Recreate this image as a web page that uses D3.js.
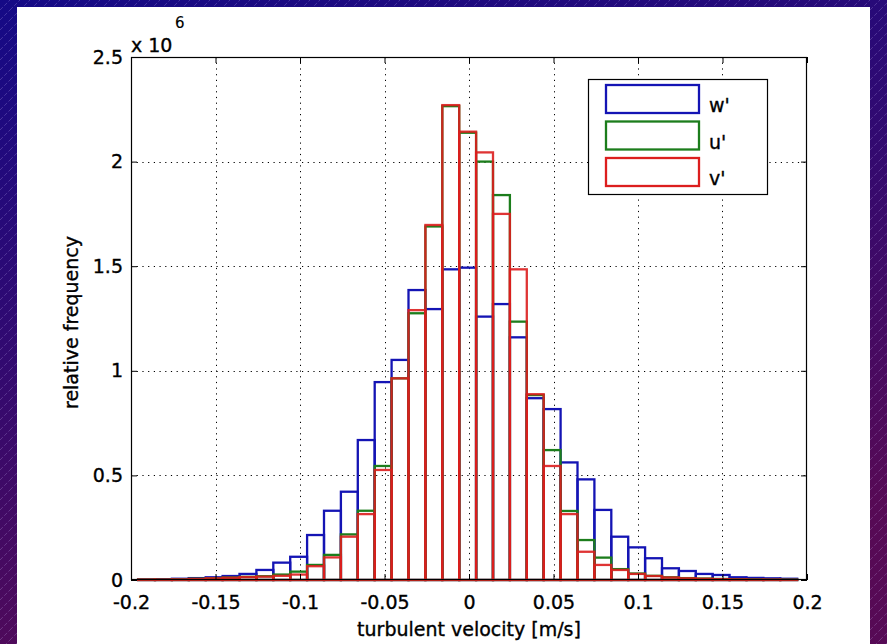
<!DOCTYPE html>
<html><head><meta charset="utf-8">
<script src="https://cdn.jsdelivr.net/npm/d3@7"></script>
<style>body{margin:0;background:#fff;} svg{display:block;} text{stroke:#000;stroke-width:0.35px;}</style>
</head><body>
<script>
// bin centres (m/s), bin width 0.01
const binCenters = [-0.1908,-0.1808,-0.1708,-0.1608,-0.1508,-0.1408,-0.1308,-0.1208,-0.1108,-0.1008,
  -0.0908,-0.0808,-0.0708,-0.0608,-0.0508,-0.0408,-0.0308,-0.0208,-0.0108,-0.0008,
  0.0092,0.0192,0.0292,0.0392,0.0492,0.0592,0.0692,0.0792,0.0892,0.0992,
  0.1092,0.1192,0.1292,0.1392,0.1492,0.1592,0.1692,0.1792,0.1892];
const binWidth = 0.01;
// relative frequency (x 10^6)
const wPrime = [0.003,0.004,0.006,0.009,0.013,0.019,0.029,0.048,0.083,0.111,
  0.215,0.331,0.422,0.669,0.946,1.052,1.386,1.295,1.485,1.493,
  1.259,1.319,1.160,0.869,0.817,0.562,0.481,0.335,0.207,0.156,
  0.104,0.056,0.043,0.029,0.024,0.013,0.010,0.008,0.006];
const uPrime = [0.002,0.002,0.003,0.006,0.008,0.012,0.015,0.018,0.026,0.040,
  0.072,0.120,0.218,0.331,0.545,0.964,1.275,1.690,2.265,2.138,
  2.000,1.840,1.235,0.884,0.621,0.330,0.191,0.107,0.052,0.031,
  0.020,0.013,0.009,0.007,0.005,0.004,0.003,0.002,0.002];
const vPrime = [0.002,0.002,0.003,0.005,0.008,0.011,0.014,0.016,0.020,0.026,
  0.066,0.108,0.207,0.315,0.526,0.964,1.290,1.697,2.270,2.143,
  2.044,1.750,1.485,0.888,0.545,0.315,0.135,0.072,0.048,0.029,
  0.019,0.012,0.008,0.006,0.004,0.003,0.002,0.002,0.001];
const seriesNames = ["w'", "u'", "v'"];
const seriesValues = [wPrime, uPrime, vPrime];
const seriesColors = ["#1414b4", "#1c7d1c", "#dc1e1e"];
const xTicks = [-0.2,-0.15,-0.1,-0.05,0,0.05,0.1,0.15,0.2];
const yTicks = [0,0.5,1,1.5,2,2.5];

const W = 887, H = 644;
const m = {left:131, right:807, top:57, bottom:580};
const FONT = "DejaVu Sans, Liberation Sans, sans-serif";

const svg = d3.select("body").append("svg").attr("width", W).attr("height", H);
const defs = svg.append("defs");
const grad = defs.append("linearGradient").attr("id","bg").attr("x1","0").attr("y1","0").attr("x2","0.35").attr("y2","1");
grad.append("stop").attr("offset","0").attr("stop-color","#150a86");
grad.append("stop").attr("offset","0.5").attr("stop-color","#320a70");
grad.append("stop").attr("offset","1").attr("stop-color","#560a55");
const pat = defs.append("pattern").attr("id","hatch").attr("patternUnits","userSpaceOnUse")
  .attr("width",10).attr("height",10);
pat.append("path").attr("d","M0,10 L10,0").attr("stroke","rgba(210,190,255,0.3)")
  .attr("stroke-width",0.8).attr("stroke-dasharray","4,2");

svg.append("rect").attr("width",W).attr("height",H).attr("fill","url(#bg)");
svg.append("rect").attr("width",W).attr("height",H).attr("fill","url(#hatch)");
svg.append("rect").attr("x",17).attr("y",7).attr("width",853).attr("height",H-7).attr("fill","#fff");

const x = d3.scaleLinear().domain([-0.2,0.2]).range([m.left,m.right]);
const y = d3.scaleLinear().domain([0,2.5]).range([m.bottom,m.top]);
const fmt = d => String(d);

// grid
const grid = svg.append("g").attr("stroke","#000").attr("stroke-width",1).attr("stroke-dasharray","1.2,4.5");
grid.selectAll(".vx").data(xTicks.slice(1,-1)).join("line")
  .attr("x1",d=>Math.round(x(d))+0.5).attr("x2",d=>Math.round(x(d))+0.5)
  .attr("y1",m.top).attr("y2",m.bottom);
grid.selectAll(".hy").data(yTicks.slice(1,-1)).join("line")
  .attr("y1",d=>Math.round(y(d))+0.5).attr("y2",d=>Math.round(y(d))+0.5)
  .attr("x1",m.left).attr("x2",m.right);

// bars
seriesValues.forEach((vals, si) => {
  svg.append("g").selectAll("rect").data(binCenters.map((c,i)=>({c, v: vals[i]}))).join("rect")
    .attr("x", d => x(d.c - binWidth/2))
    .attr("width", d => x(d.c + binWidth/2) - x(d.c - binWidth/2))
    .attr("y", d => y(d.v))
    .attr("height", d => y(0) - y(d.v))
    .attr("fill","none")
    .attr("stroke", seriesColors[si])
    .attr("stroke-opacity", si === 2 ? 0.9 : 1)
    .attr("stroke-width", 2.3);
});

// axes
function styleAxis(g){
  g.select(".domain").remove();
  g.selectAll("line").attr("stroke","#000");
  g.selectAll("text").attr("font-family",FONT).attr("font-size",19).attr("fill","#000");
}
svg.append("g").attr("transform",`translate(0,${m.bottom})`)
  .call(d3.axisBottom(x).tickValues(xTicks).tickFormat(fmt).tickSizeInner(-6).tickSizeOuter(0).tickPadding(16))
  .call(styleAxis);
svg.append("g").attr("transform",`translate(0,${m.top})`)
  .call(d3.axisTop(x).tickValues(xTicks).tickFormat("").tickSizeInner(-6).tickSizeOuter(0))
  .call(styleAxis);
svg.append("g").attr("transform",`translate(${m.left},0)`)
  .call(d3.axisLeft(y).tickValues(yTicks).tickFormat(fmt).tickSizeInner(-6).tickSizeOuter(0).tickPadding(8))
  .call(styleAxis);
svg.append("g").attr("transform",`translate(${m.right},0)`)
  .call(d3.axisRight(y).tickValues(yTicks).tickFormat("").tickSizeInner(-6).tickSizeOuter(0))
  .call(styleAxis);

// box
svg.append("rect").attr("x",m.left+0.5).attr("y",m.top+0.5)
  .attr("width",m.right-m.left-1).attr("height",m.bottom-m.top-1)
  .attr("fill","none").attr("stroke","#000").attr("stroke-width",1.2);

// exponent label
svg.append("text").attr("x",m.left).attr("y",52).attr("font-family",FONT).attr("font-size",19).text("x 10");
svg.append("text").attr("x",175).attr("y",28).attr("font-family",FONT).attr("font-size",15)
  .style("stroke-width","0.15px").text("6");

// axis labels
svg.append("text").attr("transform",`translate(78,${(m.top+m.bottom)/2+4}) rotate(-90)`)
  .attr("text-anchor","middle").attr("font-family",FONT).attr("font-size",19).text("relative frequency");
svg.append("text").attr("x",(m.left+m.right)/2).attr("y",636)
  .attr("text-anchor","middle").attr("font-family",FONT).attr("font-size",19).text("turbulent velocity [m/s]");

// legend
const lg = svg.append("g");
lg.append("rect").attr("x",588.5).attr("y",79.5).attr("width",179).attr("height",115)
  .attr("fill","#fff").attr("stroke","#000").attr("stroke-width",1.2);
seriesNames.forEach((name, i) => {
  const y0 = 85 + i*36.5;
  lg.append("rect").attr("x",606).attr("y",y0).attr("width",93).attr("height",28)
    .attr("fill","#fff").attr("stroke",seriesColors[i]).attr("stroke-width",2.3);
  lg.append("text").attr("x",709).attr("y",y0+27).attr("font-family",FONT).attr("font-size",19).text(name);
});
</script>
</body></html>
